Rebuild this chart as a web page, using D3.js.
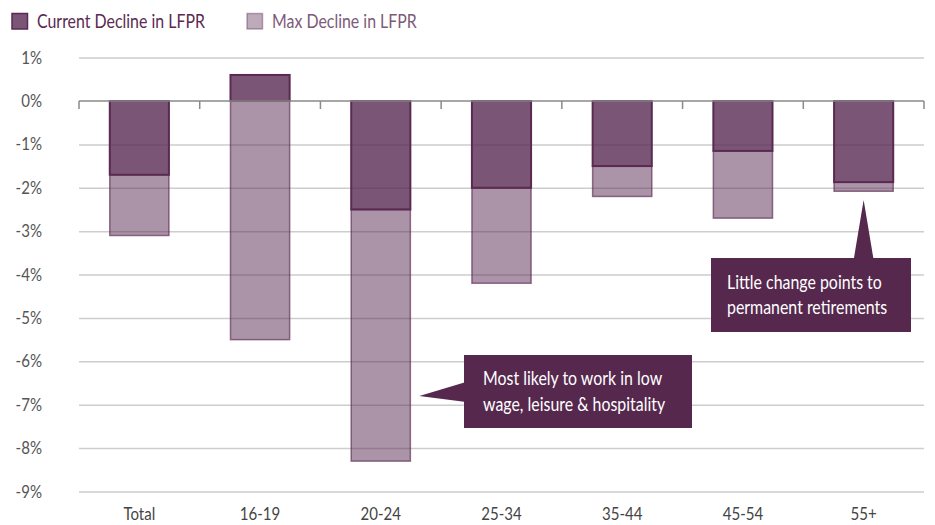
<!DOCTYPE html>
<html>
<head>
<meta charset="utf-8">
<script src="https://cdn.jsdelivr.net/npm/d3@7"></script>
<style>
  body { margin: 0; background: #fff; }
  svg { display: block; font-family: Lato, "Open Sans", sans-serif; }
  .grid line { stroke: #cdcdcd; stroke-width: 1.5; }
  .grid .domain { display: none; }
</style>
</head>
<body>
<svg id="chart" width="935" height="525"></svg>
<script>
// data
const categories = ['Total', '16-19', '20-24', '25-34', '35-44', '45-54', '55+'];
const currentDecline = [-1.7, 0.6, -2.5, -2.0, -1.5, -1.15, -1.87];
const maxDecline = [-3.1, -5.5, -8.3, -4.2, -2.2, -2.7, -2.08];
const yTicks = [1, 0, -1, -2, -3, -4, -5, -6, -7, -8, -9];
const seriesNames = ['Current Decline in LFPR', 'Max Decline in LFPR'];
const notes = [
  { cat: '20-24', value: -6.8, lines: ['Most likely to work in low', 'wage, leisure & hospitality'] },
  { cat: '55+', value: -2.28, lines: ['Little change points to', 'permanent retirements'] }
];

const dark = '#5a2a52';
const callout = '#56284e';
const squeeze = 0.86; // the original face is a narrow one

const svg = d3.select('#chart');
const margin = { left: 79, right: 11, top: 57.6, bottom: 33.5 };
const width = 935, height = 525;

// narrow text helper
function label(parent, tx, ty, str) {
  return parent.append('text')
    .attr('transform', `translate(${tx},${ty}) scale(${squeeze},1)`)
    .text(str);
}

const x = d3.scaleBand()
  .domain(categories)
  .range([margin.left, width - margin.right])
  .paddingInner(0.51)
  .paddingOuter(0.255);

const y = d3.scaleLinear()
  .domain([1, -9])
  .range([margin.top, height - margin.bottom]);

// grid lines
svg.append('g')
  .attr('class', 'grid')
  .attr('transform', `translate(${margin.left},0)`)
  .call(d3.axisLeft(y).tickValues(yTicks.filter(d => d !== 0))
    .tickSize(-(width - margin.right - margin.left)).tickFormat(''));

// y labels
const ylab = svg.append('g')
  .attr('fill', '#555').attr('font-size', 17.5).attr('text-anchor', 'end');
yTicks.forEach(d => label(ylab, 42, y(d) + 6, d + '%'));

// max decline bars (stacked below current)
const bw = x.bandwidth();
svg.append('g')
  .selectAll('rect')
  .data(categories)
  .join('rect')
  .attr('x', d => x(d))
  .attr('y', (d, i) => y(Math.min(0, currentDecline[i])))
  .attr('width', bw)
  .attr('height', (d, i) => y(maxDecline[i]) - y(Math.min(0, currentDecline[i])))
  .attr('fill', dark)
  .attr('fill-opacity', 0.5)
  .attr('stroke', dark)
  .attr('stroke-opacity', 0.65)
  .attr('stroke-width', 1.5);

// current decline bars
svg.append('g')
  .selectAll('rect')
  .data(categories)
  .join('rect')
  .attr('x', d => x(d))
  .attr('y', (d, i) => y(Math.max(0, currentDecline[i])))
  .attr('width', bw)
  .attr('height', (d, i) => Math.abs(y(currentDecline[i]) - y(0)))
  .attr('fill', dark)
  .attr('fill-opacity', 0.8)
  .attr('stroke', dark)
  .attr('stroke-width', 2);

// zero line with category ticks
const zero = svg.append('g').attr('transform', `translate(0,${y(0)})`);
const bounds = categories.map(c => x(c) - x.step() * x.paddingInner() / 2);
bounds.push(width - margin.right);
zero.append('line')
  .attr('x1', margin.left).attr('x2', width - margin.right)
  .attr('stroke', '#8a8a8a').attr('stroke-width', 1.5);
zero.selectAll('line.tk')
  .data(bounds)
  .join('line')
  .attr('class', 'tk')
  .attr('x1', d => d).attr('x2', d => d)
  .attr('y1', 0).attr('y2', 8)
  .attr('stroke', '#8a8a8a').attr('stroke-width', 1.5);

// x labels
const xlab = svg.append('g')
  .attr('fill', '#444').attr('font-size', 17.5).attr('text-anchor', 'middle');
categories.forEach(c => label(xlab, x(c) + bw / 2, 520, c));

// legend
const legend = svg.append('g').attr('font-size', 18.5);
const legendX = [12, 247];
const legendFill = [0.8, 0.4];
const legendText = [dark, '#7d5a78'];
seriesNames.forEach((name, i) => {
  legend.append('rect')
    .attr('x', legendX[i]).attr('y', 13.5)
    .attr('width', 15.5).attr('height', 15.5)
    .attr('fill', dark).attr('fill-opacity', legendFill[i])
    .attr('stroke', dark).attr('stroke-opacity', i ? 0.4 : 1).attr('stroke-width', 1.5);
  label(legend, legendX[i] + 25, 28, name).attr('fill', legendText[i]);
});

// callouts
const n1 = notes[0];
const tip1x = x(n1.cat) + bw + 9, tip1y = y(n1.value);
const g1 = svg.append('g').attr('fill', '#fff').attr('font-size', 18.5);
g1.append('rect')
  .attr('x', 464).attr('y', 355).attr('width', 228).attr('height', 73)
  .attr('fill', callout);
g1.append('path')
  .attr('d', `M${tip1x},${tip1y} L466,382 L466,402 Z`)
  .attr('fill', callout);
n1.lines.forEach((t, i) => label(g1, 483, 385 + i * 26, t));

const n2 = notes[1];
const tip2x = x(n2.cat) + bw / 2, tip2y = y(n2.value);
const g2 = svg.append('g').attr('fill', '#fff').attr('font-size', 18.5);
g2.append('rect')
  .attr('x', 711).attr('y', 258).attr('width', 200).attr('height', 74)
  .attr('fill', callout);
g2.append('path')
  .attr('d', `M${tip2x},${tip2y} L${tip2x - 10},260 L${tip2x + 10},260 Z`)
  .attr('fill', callout);
n2.lines.forEach((t, i) => label(g2, 727, 289 + i * 25, t));
</script>
</body>
</html>
